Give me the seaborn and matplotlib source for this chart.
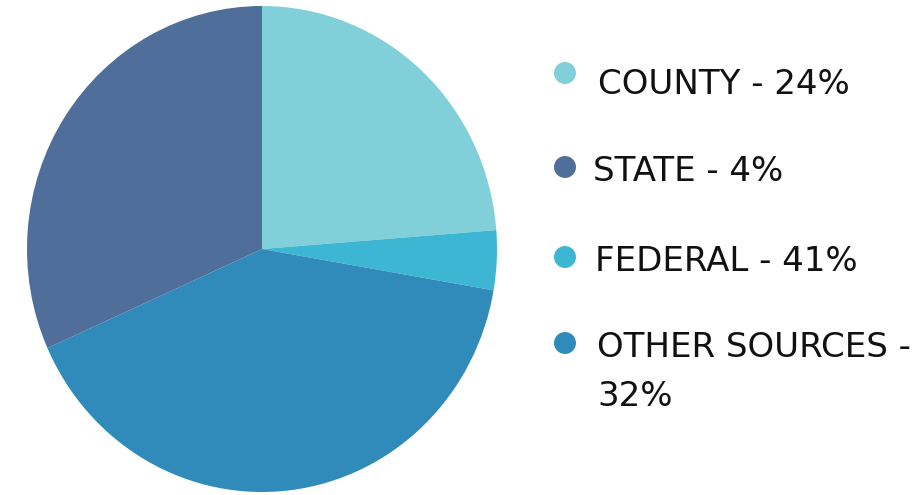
import matplotlib
matplotlib.use("Agg")
import matplotlib.pyplot as plt
import seaborn as sns
import pandas as pd

sns.set_theme(style="white")
plt.rcParams['font.family'] = ['DejaVu Sans']

# legend entries (as printed in the chart)
categories = ["COUNTY", "STATE", "FEDERAL", "OTHER SOURCES"]
percents = [24, 4, 41, 32]
legend_colors = ["#80cfd9", "#4f6e9a", "#3db6d3", "#308bba"]

# slices as drawn, clockwise from 12 o'clock
slice_values = [24, 4, 41, 32]
slice_colors = ["#80cfd9", "#3db6d3", "#308bba", "#4f6e9a"]

W, H = 916, 495
fig = plt.figure(figsize=(W / 100, H / 100), dpi=100)

# pie (slightly taller than wide, like the original)
ax = fig.add_axes([27 / W, 3 / H, 470 / W, 486 / H])
ax.pie(slice_values, colors=slice_colors, startangle=90, counterclock=False,
       wedgeprops=dict(linewidth=0))
ax.set_aspect("auto")
ax.set_xlim(-1, 1)
ax.set_ylim(-1, 1)
ax.axis("off")

# legend drawn in pixel space
lax = fig.add_axes([0, 0, 1, 1])
lax.set_xlim(0, W)
lax.set_ylim(H, 0)
lax.axis("off")

marker_y = [73, 167, 257, 343]
text_y = [81, 168, 258, 344]
text_x = [598, 593, 595, 597]
label_lines = [[f"{c} - {p}%"] for c, p in zip(categories, percents)]
label_lines[3] = [f"{categories[3]} -", f"{percents[3]}%"]

leg = pd.DataFrame({"x": [565] * 4, "y": marker_y, "cat": categories})
sns.scatterplot(data=leg, x="x", y="y", hue="cat", palette=legend_colors,
                s=250, linewidth=0, legend=False, ax=lax)
lax.set_xlabel("")
lax.set_ylabel("")

for lines, x, y in zip(label_lines, text_x, text_y):
    for k, line in enumerate(lines):
        lax.text(x, y + k * 49, line, fontsize=24.5, color="#111111",
                 va="center_baseline", ha="left")

fig.savefig("out.png", dpi=100)
